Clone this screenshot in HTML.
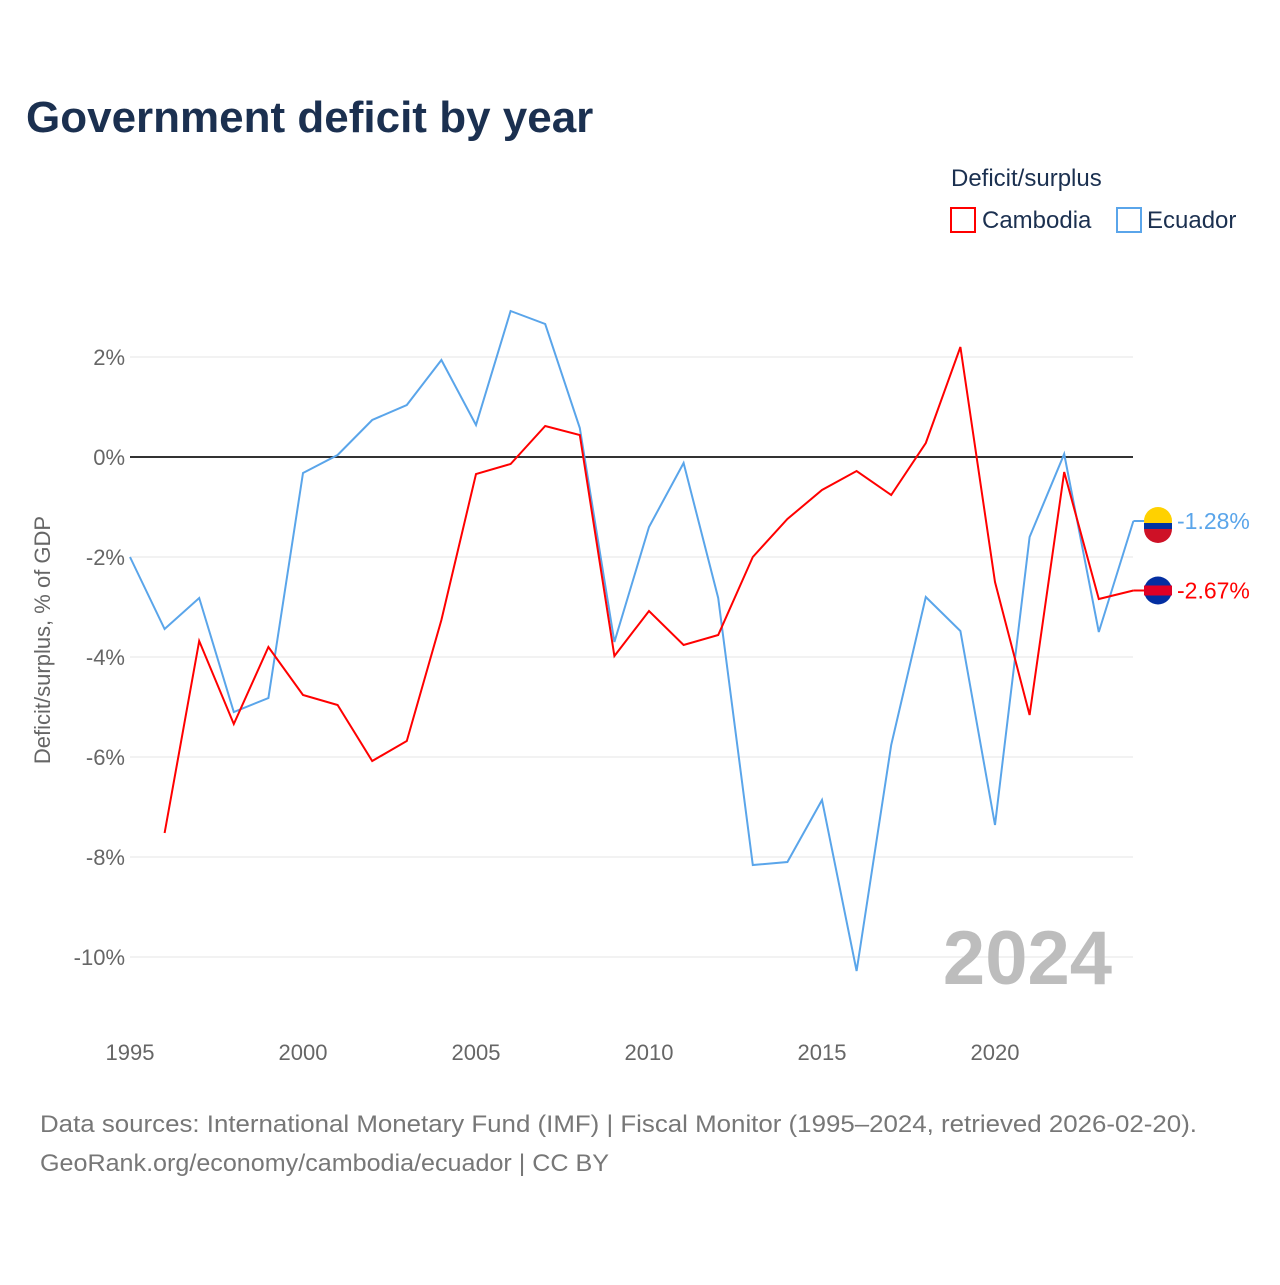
<!DOCTYPE html>
<html><head><meta charset="utf-8"><style>
body{margin:0;background:#fff;font-family:"Liberation Sans",sans-serif;}
svg text{font-family:"Liberation Sans",sans-serif;}
</style></head><body>
<svg id="chart" width="1280" height="1280" xmlns="http://www.w3.org/2000/svg">
<text x="26" y="132" font-size="44" font-weight="bold" fill="#1b3050">Government deficit by year</text>
<text x="951" y="186" font-size="24" fill="#1b3050">Deficit/surplus</text>
<g><rect x="951" y="208" width="24" height="24" fill="none" stroke="#ff0000" stroke-width="2"/><text x="982" y="228" font-size="24" fill="#1b3050">Cambodia</text></g>
<g><rect x="1117" y="208" width="24" height="24" fill="none" stroke="#5aa5ea" stroke-width="2"/><text x="1147" y="228" font-size="24" fill="#1b3050">Ecuador</text></g>
<text transform="translate(50,640) rotate(-90)" text-anchor="middle" font-size="22" fill="#666">Deficit/surplus, % of GDP</text>
<g id="grid"></g><g id="lines"></g>
<text x="1112" y="984" text-anchor="end" font-size="76" font-weight="bold" fill="#bdbdbd">2024</text>
<text x="40" y="1132" font-size="24" fill="#777" textLength="1157" lengthAdjust="spacingAndGlyphs">Data sources: International Monetary Fund (IMF) | Fiscal Monitor (1995–2024, retrieved 2026-02-20).</text>
<text x="40" y="1171" font-size="24" fill="#777" textLength="569" lengthAdjust="spacingAndGlyphs">GeoRank.org/economy/cambodia/ecuador | CC BY</text>
</svg>
<script>
const years=[1995,1996,1997,1998,1999,2000,2001,2002,2003,2004,2005,2006,2007,2008,2009,2010,2011,2012,2013,2014,2015,2016,2017,2018,2019,2020,2021,2022,2023,2024];
const ecuador=[-2.0,-3.44,-2.82,-5.1,-4.82,-0.32,0.04,0.74,1.04,1.94,0.64,2.92,2.66,0.58,-3.7,-1.4,-0.12,-2.82,-8.16,-8.1,-6.86,-10.28,-5.76,-2.8,-3.48,-7.36,-1.6,0.06,-3.5,-1.28];
const cambodia=[null,-7.52,-3.68,-5.34,-3.8,-4.76,-4.96,-6.08,-5.68,-3.26,-0.34,-0.14,0.62,0.44,-3.98,-3.08,-3.76,-3.56,-2.0,-1.24,-0.66,-0.28,-0.76,0.28,2.2,-2.5,-5.16,-0.3,-2.84,-2.67];
const yTicks=[2,0,-2,-4,-6,-8,-10];
const xTicks=[1995,2000,2005,2010,2015,2020];
const NS="http://www.w3.org/2000/svg";
const X=y=>130+(y-1995)*34.6, Y=v=>457-v*50;
const grid=document.getElementById('grid'), lines=document.getElementById('lines');
function mk(tag,attrs,parent){const e=document.createElementNS(NS,tag);for(const k in attrs)e.setAttribute(k,attrs[k]);parent.appendChild(e);return e;}
yTicks.forEach(v=>{
 const l=mk('line',{x1:130,x2:1133,y1:Y(v),y2:Y(v),stroke:v===0?'#333':'#e6e6e6','stroke-width':v===0?2:1},grid);
 
 
 const t=mk('text',{x:125,y:Y(v)+8,'text-anchor':'end','font-size':22,fill:'#666'},grid);
 t.textContent=v+'%';
 
 
});
xTicks.forEach(v=>{
 const t=mk('text',{x:X(v),y:1060,'text-anchor':'middle','font-size':22,fill:'#666'},grid);
 t.textContent=v;
 
 
});
function series(vals,color,name){
 let d='';vals.forEach((v,i)=>{if(v===null)return;d+=(d?'L':'M')+X(years[i])+','+Y(v);});
 const p=mk('path',{d:d,fill:'none',stroke:color,'stroke-width':2},lines);
 
 
 const last=vals[vals.length-1];
 mk('line',{x1:X(2024),x2:1145,y1:Y(last),y2:Y(last),stroke:color,'stroke-width':2},lines);
 const g=mk('circle',{cx:1158,cy:Y(last),r:14,fill:name==='ecuador'?'#ffd100':'#032ea1'},lines);
 
 
 mk('rect',{x:1144,y:Y(last)+(name==='ecuador'?2:-5),width:28,height:name==='ecuador'?6:10,fill:name==='ecuador'?'#0033a0':'#e00025'},lines);
 if(name==='ecuador')mk('path',{d:`M1144,${Y(last)+8} A14,14 0 0 0 1172,${Y(last)+8} Z`,fill:'#ce1126'},lines);
 const t=mk('text',{x:1177,y:Y(last)+8,'font-size':23,fill:color},lines);
 t.textContent=last.toFixed(2)+'%';
 
 
}
series(ecuador,'#5aa5ea','ecuador');
series(cambodia,'#ff0000','cambodia');
</script>
</body></html>
